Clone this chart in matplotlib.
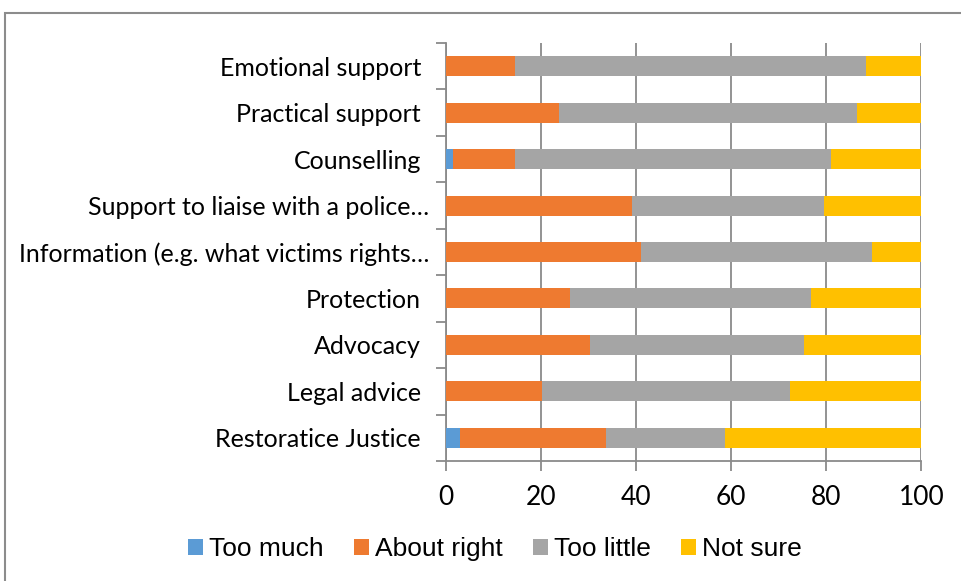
import numpy as np
import matplotlib.pyplot as plt
from matplotlib.patches import Rectangle
from matplotlib.transforms import ScaledTranslation

# 서비스 항목별 응답 비율 (%)
categories = [
    "Emotional support",
    "Practical support",
    "Counselling",
    "Support to liaise with a police\u2026",
    "Information (e.g. what victims rights\u2026",
    "Protection",
    "Advocacy",
    "Legal advice",
    "Restoratice Justice",
]
too_much = [0, 0, 1.5, 0, 0, 0, 0, 0, 2.9]
about_right = [14.5, 23.8, 13.0, 39.1, 41.0, 26.0, 30.3, 20.1, 30.7]
too_little = [73.9, 62.7, 66.5, 40.4, 48.6, 50.8, 45.0, 52.3, 25.1]
not_sure = [11.6, 13.5, 19.0, 20.5, 10.4, 23.2, 24.7, 27.6, 41.3]

series = [
    ("Too much", too_much, "#5B9BD5"),
    ("About right", about_right, "#EE7A30"),
    ("Too little", too_little, "#A5A5A5"),
    ("Not sure", not_sure, "#FFC000"),
]

fig = plt.figure(figsize=(9.61, 5.81), dpi=100)
ax = fig.add_axes([446 / 961, 1 - 461 / 581, 475.3 / 961, 418 / 581])

# 차트 영역 테두리
fig.patches.append(Rectangle((5 / 961, -0.1), 1.1, 1 - 13 / 581 + 0.1,
                             transform=fig.transFigure, fill=False,
                             edgecolor="#8C8C8C", linewidth=1.5))

y = np.arange(len(categories))[::-1]
left = np.zeros(len(categories))
for name, vals, color in series:
    vals = np.array(vals)
    ax.barh(y, vals, left=left, height=0.43, color=color, label=name, zorder=3)
    left += vals

ax.set_xlim(0, 100)
ax.set_ylim(-0.5, len(categories) - 0.5)
ax.set_xticks(np.arange(0, 101, 20))
ax.grid(axis="x", color="#8A8A8A", linewidth=1.3, zorder=0)

ax.set_yticks(y)
ax.set_yticklabels(categories, fontsize=18, family="Lato")
ax.set_yticks(np.arange(-0.5, len(categories), 1), minor=True)
ax.tick_params(axis="y", which="major", length=0, pad=18)
ax.tick_params(axis="y", which="minor", length=7, width=1.3, color="#8A8A8A")
ax.tick_params(axis="x", length=7, width=1.3, color="#8A8A8A", labelsize=19, pad=10)
for lbl in ax.get_xticklabels():
    lbl.set_family("Lato")

# 말줄임 라벨은 축 쪽으로 조금 붙여서
for lbl in ax.get_yticklabels():
    if lbl.get_text().endswith("\u2026"):
        lbl.set_transform(lbl.get_transform() + ScaledTranslation(0.08, 0, fig.dpi_scale_trans))

for side in ["top", "right"]:
    ax.spines[side].set_visible(False)
for side in ["left", "bottom"]:
    ax.spines[side].set_color("#8A8A8A")
    ax.spines[side].set_linewidth(1.3)

leg = fig.legend(loc="center", bbox_to_anchor=(495 / 961, 1 - 549 / 581), ncol=4,
                 frameon=False, handlelength=0.57, handleheight=0.57,
                 handletextpad=0.23, columnspacing=1.14,
                 prop={"family": "Liberation Sans", "size": 19})

fig.savefig("out.png", dpi=100)
